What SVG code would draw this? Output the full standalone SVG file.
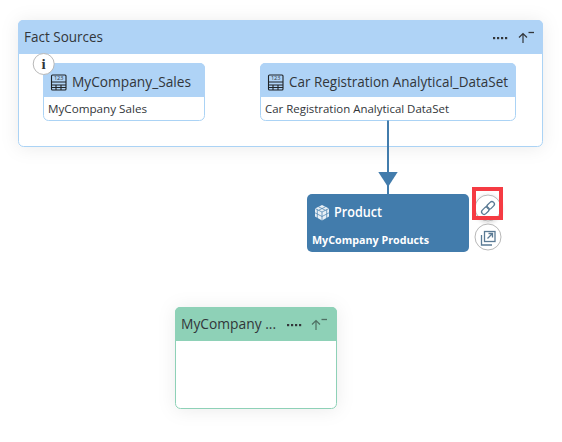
<svg xmlns="http://www.w3.org/2000/svg" width="562" height="442" viewBox="0 0 562 442">
<style>
text{font-family:"Open Sans","Noto Sans",sans-serif;fill:#32363a}
.t{font-size:14px}.s{font-size:11px}.ti{font-size:14px}
.line{stroke:#427cac;stroke-width:2;fill:none}
.ic{fill:none;stroke:#1f2326;stroke-width:1.100}
.gi{fill:none;stroke:#5a7a94;stroke-width:1.300}
.btn{fill:#fff;stroke:#b8b8b8;stroke-width:1}
.body{fill:#fff;stroke:#abd3f5;stroke-width:1}
.hd{fill:#afd3f6}
.dot{fill:#32363a}
</style>
<defs>
<filter id="sh" x="-15%" y="-40%" width="130%" height="180%"><feDropShadow dx="0" dy="1" stdDeviation="9" flood-color="#000" flood-opacity="0.08"/></filter>
<filter id="sb" x="-30%" y="-30%" width="160%" height="160%"><feDropShadow dx="0" dy="1" stdDeviation="2" flood-color="#000" flood-opacity="0.18"/></filter>
<g id="tbl"><rect x="0.500" y="0.500" width="14.500" height="15" rx="1" class="ic"/><path d="M0.500 7.500H15M0.500 10.500H15M0.500 13H15M5 10.500V15.500M10 10.500V15.500" class="ic"/><text x="7.700" y="5.800" text-anchor="middle" style="font-size:5.500px">123</text></g>
<g id="ud"><path d="M5 11V1.500M1 5.500L5 1.500L9 5.500" fill="none" stroke="currentColor" stroke-width="1.200"/><path d="M10.500 0.500H16" stroke="currentColor" stroke-width="1.300"/></g>
<g id="dots"><rect x="-1" y="-1" width="2.200" height="2.200"/><rect x="3" y="-1" width="2.200" height="2.200"/><rect x="7" y="-1" width="2.200" height="2.200"/><rect x="11" y="-1" width="2.200" height="2.200"/></g>
</defs>
<rect width="562" height="442" fill="#fff"/>
<g id="fact-sources">
<rect x="18.500" y="20.500" width="524" height="126" rx="5" class="body" filter="url(#sh)"/>
<path class="hd" d="M18 25a5 5 0 0 1 5-5H538a5 5 0 0 1 5 5V54H18Z"/>
<text class="ti" x="24" y="42" textLength="79" lengthAdjust="spacingAndGlyphs">Fact Sources</text>
<use href="#dots" x="494" y="38" class="dot"/>
<use href="#ud" x="518" y="32" color="#32363a"/>
</g>
<g id="mycompany-sales">
<rect x="43.500" y="63.500" width="161" height="57" rx="5" class="body"/>
<path class="hd" d="M43 68a5 5 0 0 1 5-5H200a5 5 0 0 1 5 5V97H43Z"/>
<use href="#tbl" x="51" y="74.500"/>
<text class="t" x="72" y="87" textLength="119" lengthAdjust="spacingAndGlyphs">MyCompany_Sales</text>
<text class="s" x="48" y="113" textLength="99" lengthAdjust="spacingAndGlyphs">MyCompany Sales</text>
</g>
<g id="info">
<circle class="btn" cx="43.700" cy="64" r="10.500"/>
<text x="43.700" y="69" text-anchor="middle" style="font-family:'Liberation Serif',serif;font-size:15px;font-weight:bold">i</text>
</g>
<g id="car-registration">
<rect x="260.500" y="63.500" width="255" height="57" rx="5" class="body"/>
<path class="hd" d="M260 68a5 5 0 0 1 5-5H511a5 5 0 0 1 5 5V97H260Z"/>
<use href="#tbl" x="268" y="74.500"/>
<text class="t" x="289" y="87" textLength="219" lengthAdjust="spacingAndGlyphs">Car Registration Analytical_DataSet</text>
<text class="s" x="265" y="113" textLength="184" lengthAdjust="spacingAndGlyphs">Car Registration Analytical DataSet</text>
</g>
<g id="connectors">
<path class="line" d="M388 120.500V194"/>
<polygon points="378.300,172 397.700,172 388,187" fill="#427cac"/>
</g>
<g id="product">
<rect x="307" y="194" width="162" height="58" rx="5" fill="#427cac"/>
<path d="M322 205l7 3.500v8l-7 4l-7-4v-8Z" fill="#e8eff5"/>
<path d="M315 208.500l7 3.500l7-3.500M322 212v8.500M318.500 206.800l7 3.500M325.500 206.800l-7 3.500M317.300 209.500v9M326.700 209.500v9M315 212.800l7 3.700l7-3.700" fill="none" stroke="#427cac" stroke-width="0.700"/>
<text x="334" y="217" style="font-size:13.500px;font-weight:600;fill:#fff" textLength="48" lengthAdjust="spacingAndGlyphs">Product</text>
<text x="312" y="244" style="font-size:11px;font-weight:700;fill:#fff" textLength="117" lengthAdjust="spacingAndGlyphs">MyCompany Products</text>
</g>
<g id="link-button">
<circle class="btn" cx="488" cy="208" r="13" filter="url(#sb)"/>
<g class="gi" transform="rotate(-45 488 208)">
<rect x="480" y="205.500" width="8.500" height="5" rx="2.500"/>
<rect x="487.500" y="205.500" width="8.500" height="5" rx="2.500"/>
</g>
<rect x="474" y="189" width="27" height="29" fill="none" stroke="#f53b43" stroke-width="4"/>
</g>
<g id="open-button">
<circle class="btn" cx="488" cy="237" r="13"/>
<rect x="484.500" y="231.500" width="10.500" height="10" class="gi"/>
<path class="gi" d="M481.500 235V245H492M487.500 238.500L492.500 233.500M488.500 233.500H492.500V237.500"/>
</g>
<g id="mycompany-group">
<rect x="175.500" y="307.500" width="161" height="101" rx="5" fill="#fff" stroke="#8ed1b7" filter="url(#sh)"/>
<path fill="#8ed1b7" d="M175 312a5 5 0 0 1 5-5H332a5 5 0 0 1 5 5V341H175Z"/>
<text class="ti" x="181" y="329" textLength="95" lengthAdjust="spacingAndGlyphs">MyCompany ...</text>
<use href="#dots" x="288" y="325" class="dot"/>
<use href="#ud" x="311" y="319" color="#4f6f63"/>
</g>
</svg>
